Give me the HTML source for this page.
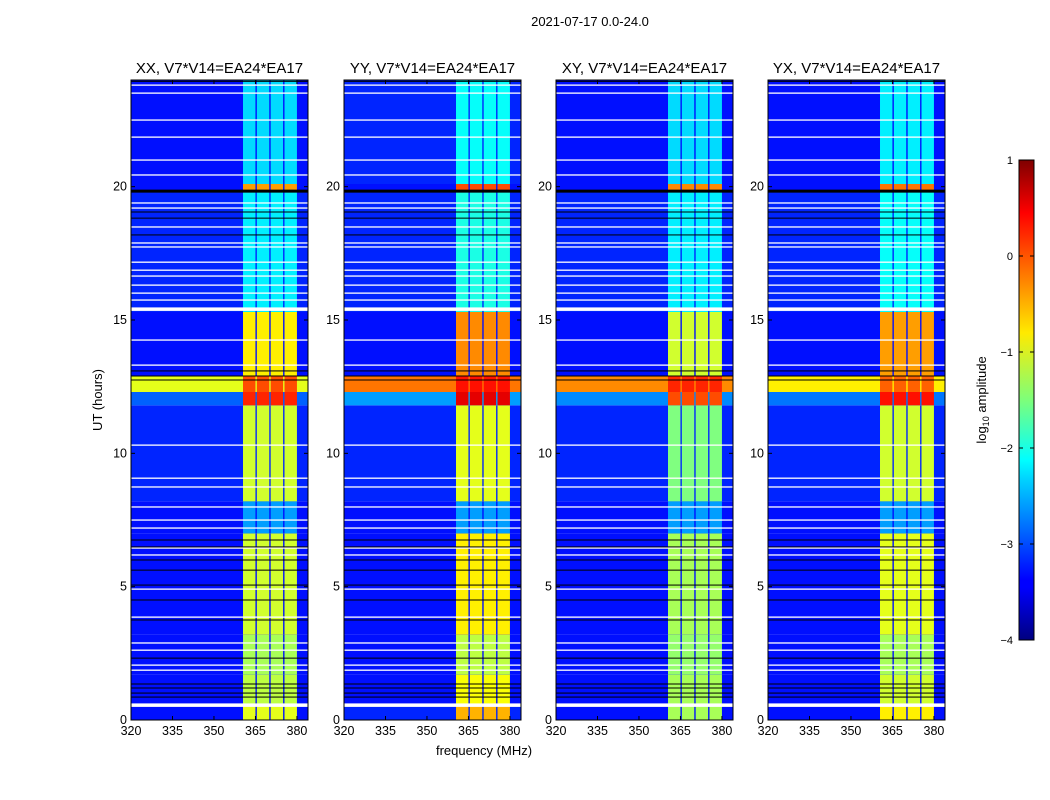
<!DOCTYPE html>
<html><head><meta charset="utf-8"><style>
body{margin:0;background:#fff;}
svg{display:block;font-family:"Liberation Sans",sans-serif;}
</style></head><body>
<svg id="fig" width="1050" height="800" viewBox="0 0 1050 800">
<defs>
<linearGradient id="jet" x1="0" y1="1" x2="0" y2="0">
<stop offset="0" stop-color="#00007f"/><stop offset="0.11" stop-color="#0000ff"/><stop offset="0.125" stop-color="#0000ff"/>
<stop offset="0.34" stop-color="#00d8ff"/><stop offset="0.375" stop-color="#00ffff"/><stop offset="0.5" stop-color="#7dff7a"/>
<stop offset="0.64" stop-color="#ffea00"/><stop offset="0.66" stop-color="#ffd800"/><stop offset="0.89" stop-color="#ff0000"/><stop offset="1" stop-color="#7f0000"/>
</linearGradient>
</defs>
<text x="590" y="26" text-anchor="middle" font-size="13">2021-07-17 0.0-24.0</text>
<g id="panels"></g>
<g>
<rect x="1019" y="160" width="15" height="480" fill="url(#jet)" stroke="#000" stroke-width="1"/>
<g id="cbticks"></g>
<text transform="translate(986,400) rotate(-90)" text-anchor="middle" font-size="13">log<tspan font-size="9" dy="3">10</tspan><tspan dy="-3"> amplitude</tspan></text>
</g>
<text transform="translate(102,400) rotate(-90)" text-anchor="middle" font-size="13">UT (hours)</text>
<text x="484" y="755" text-anchor="middle" font-size="13">frequency (MHz)</text>
</svg>
<script>
const panelTitles = ["XX, V7*V14=EA24*EA17","YY, V7*V14=EA24*EA17","XY, V7*V14=EA24*EA17","YX, V7*V14=EA24*EA17"];
const segStart = [0,0.6,1.7,3.2,7.0,8.2,11.8,12.3,12.9,15.3,19.8,20.1];
const segEnd   = [0.6,1.7,3.2,7.0,8.2,11.8,12.3,12.9,15.3,19.8,20.1,24];
const bandXX = [-1.0,-1.2,-1.3,-1.1,-2.6,-1.1,0.2,0.0,-0.8,-2.2,-0.4,-2.3];
const bandYY = [-0.5,-0.9,-1.2,-0.8,-2.6,-1.0,0.5,0.3,-0.3,-2.0,0.0,-2.1];
const bandXY = [-1.3,-1.3,-1.4,-1.3,-2.6,-1.5,0.0,0.2,-1.1,-2.2,-0.3,-2.3];
const bandYX = [-0.8,-1.1,-1.3,-1.0,-2.6,-1.1,0.3,-0.1,-0.4,-2.1,-0.2,-2.2];
const bgXX = [-3.3,-3.3,-3.3,-3.3,-3.3,-3.2,-2.9,-1.0,-3.3,-3.2,-3.3,-3.3];
const bgYY = [-3.2,-3.3,-3.3,-3.3,-3.3,-3.2,-2.6,-0.2,-3.3,-3.2,-3.3,-3.2];
const bgXY = [-3.3,-3.3,-3.3,-3.3,-3.3,-3.2,-2.7,-0.3,-3.3,-3.2,-3.3,-3.3];
const bgYX = [-3.3,-3.3,-3.3,-3.3,-3.3,-3.2,-2.8,-0.8,-3.3,-3.2,-3.3,-3.3];
const subbandLo = [360.5,365.5,370.5,375.5];
const subbandHi = [365.0,370.0,375.0,380.0];
const whiteFlags = [23.81,23.51,22.5,21.86,21.0,20.44,19.39,19.2,18.49,17.89,17.74,17.17,16.87,16.65,16.31,16.01,15.75,15.45,14.25,13.31,10.31,9.07,8.74,7.99,7.5,7.2,6.45,6.19,4.91,3.86,2.89,2.62,2.06,1.87,0.6];
const blackFlags = [23.95,19.87,19.05,18.82,18.19,13.09,12.9,12.75,6.75,6.49,6.0,5.62,5.06,4.5,3.75,2.32,1.35,1.2,1.01,0.86];
const xTicks = [320,335,350,365,380];
const yTicks = [0,5,10,15,20];
const cbTicks = [1,0,-1,-2,-3,-4];

const bands=[bandXX,bandYY,bandXY,bandYX], bgs=[bgXX,bgYY,bgXY,bgYX];
const panelLeft=[131,344,556,768], PW=177, PT=80, PH=640;
const fMin=320,fMax=384,tMin=0,tMax=24,vMin=-4,vMax=1;
function jet(v){let t=(v-vMin)/(vMax-vMin);t=Math.max(0,Math.min(1,t));
 const c=x=>Math.round(255*Math.max(0,Math.min(1,x)));
 return `rgb(${c(1.5-Math.abs(4*t-3))},${c(1.5-Math.abs(4*t-2))},${c(1.5-Math.abs(4*t-1))})`;}
const NS="http://www.w3.org/2000/svg";
function mk(tag,attrs,parent){const e=document.createElementNS(NS,tag);for(const k in attrs)e.setAttribute(k,attrs[k]);parent.appendChild(e);return e;}
const root=document.getElementById('panels');
for(let p=0;p<4;p++){
 const L=panelLeft[p];
 const xs=f=>L+(f-fMin)*PW/(fMax-fMin);
 const ys=h=>PT+PH-(h-tMin)*PH/(tMax-tMin);
 const g=mk('g',{},root);
 
 
 for(let i=0;i<segStart.length;i++){
  const y0=ys(segEnd[i]),y1=ys(segStart[i]);
  const r=mk('rect',{x:L,y:y0,width:PW,height:y1-y0,fill:jet(bgs[p][i])},g);
  
  
  for(let b=0;b<subbandLo.length;b++){
   const c=mk('rect',{x:xs(subbandLo[b]),y:y0,width:xs(subbandHi[b])-xs(subbandLo[b]),height:y1-y0,fill:jet(bands[p][i])},g);
   
   
  }
 }
 whiteFlags.forEach(h=>{const r=mk('rect',{x:L,y:ys(h)-0.6,width:PW,height:(h===15.45||h===0.6)?3.5:1.3,fill:'#fff'},g);
  
  });
 blackFlags.forEach(h=>{const r=mk('rect',{x:L,y:ys(h)-0.5,width:PW,height:(h===19.87)?3:1,fill:'#000'},g);
  
  });
 const fr=mk('rect',{x:L,y:PT,width:PW,height:PH,fill:'none',stroke:'#000','stroke-width':1},g);
 
 
 const t=mk('text',{x:L+PW/2,y:PT-7,'text-anchor':'middle','font-size':15},g);t.textContent=panelTitles[p];
 
 
 xTicks.forEach(v=>{const x=xs(v);mk('line',{x1:x,x2:x,y1:PT+PH,y2:PT+PH-4,stroke:'#000'},g);mk('line',{x1:x,x2:x,y1:PT,y2:PT+4,stroke:'#000'},g);
  const l=mk('text',{x:x,y:PT+PH+15,'text-anchor':'middle','font-size':12.5},g);l.textContent=v;
  
  });
 yTicks.forEach(v=>{const y=ys(v);mk('line',{x1:L,x2:L+4,y1:y,y2:y,stroke:'#000'},g);mk('line',{x1:L+PW,x2:L+PW-4,y1:y,y2:y,stroke:'#000'},g);
  const l=mk('text',{x:L-4,y:y+4,'text-anchor':'end','font-size':12.5},g);l.textContent=v;
  
  });
}
const cb=document.getElementById('cbticks');
cbTicks.forEach(v=>{const y=640-(v-vMin)*480/(vMax-vMin);
 mk('line',{x1:1019,x2:1023,y1:y,y2:y,stroke:'#000'},cb);mk('line',{x1:1034,x2:1030,y1:y,y2:y,stroke:'#000'},cb);
 const l=mk('text',{x:1013,y:y+4,'text-anchor':'end','font-size':11},cb);l.textContent=v<0?'\u2212'+(-v):v;
 
 });
</script>
</body></html>
